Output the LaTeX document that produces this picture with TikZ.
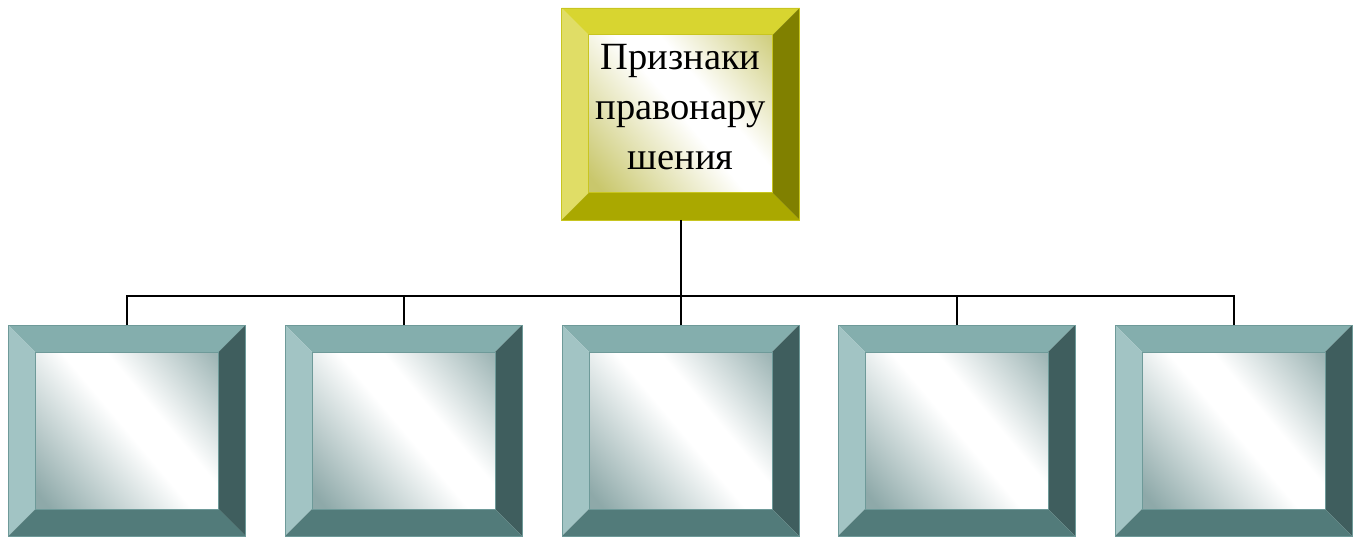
\documentclass[tikz,border=0pt]{standalone}
\usepackage{fontspec}
\setmainfont{Liberation Serif}
\usetikzlibrary{calc}
\definecolor{ttop}{HTML}{84AEAD}
\definecolor{tleft}{HTML}{A2C4C4}
\definecolor{tright}{HTML}{3F5E5E}
\definecolor{tbot}{HTML}{527B7A}
\definecolor{tin}{HTML}{8EA9A9}
\definecolor{tedge}{HTML}{6E9A99}
\definecolor{ytop}{HTML}{D8D530}
\definecolor{yleft}{HTML}{E0DD66}
\definecolor{yright}{HTML}{808000}
\definecolor{ybot}{HTML}{AAA800}
\definecolor{yin}{HTML}{C9C76C}
\definecolor{yedge}{HTML}{C8C520}
\pgfdeclarehorizontalshading{tealin}{100bp}{color(0bp)=(tin); color(18bp)=(tin); color(50bp)=(white); color(60bp)=(white); color(84bp)=(tin!85); color(100bp)=(tin!85)}
\pgfdeclarehorizontalshading{yelin}{100bp}{color(0bp)=(yin); color(18bp)=(yin); color(50bp)=(white); color(60bp)=(white); color(84bp)=(yin!85); color(100bp)=(yin!85)}
\tikzset{
  x=1pt, y=1pt,
  bevelbox/.style n args={6}{
    minimum width=237pt, minimum height=211pt, inner sep=0pt, outer sep=0pt,
    draw=#6, line width=0.6pt,
    path picture={
      \path (path picture bounding box.north west) coordinate (pNW)
            (path picture bounding box.north east) coordinate (pNE)
            (path picture bounding box.south west) coordinate (pSW)
            (path picture bounding box.south east) coordinate (pSE);
      \path ($(pNW)+(27,-27)$) coordinate (qNW)
            ($(pNE)+(-27,-27)$) coordinate (qNE)
            ($(pSW)+(27,27)$) coordinate (qSW)
            ($(pSE)+(-27,27)$) coordinate (qSE);
      \shade[shading=#5, shading angle=40] (qSW) rectangle (qNE);
      \fill[#1] (pNW) -- (pNE) -- (qNE) -- (qNW) -- cycle;
      \fill[#2] (pNW) -- (qNW) -- (qSW) -- (pSW) -- cycle;
      \fill[#3] (pNE) -- (pSE) -- (qSE) -- (qNE) -- cycle;
      \fill[#4] (pSW) -- (qSW) -- (qSE) -- (pSE) -- cycle;
      \draw[#6, line width=1pt] (qNW) rectangle (qSE);
    }
  },
  tealbox/.style={bevelbox={ttop}{tleft}{tright}{tbot}{tealin}{tedge}},
  yelbox/.style={bevelbox={ytop}{yleft}{yright}{ybot}{yelin}{yedge},
    minimum width=238pt, minimum height=212pt,
    font=\fontsize{38.5}{50}\selectfont, align=center, text depth=14pt},
  conn/.style={draw=black, line width=2pt}
}
\begin{document}
\begin{tikzpicture}
\useasboundingbox (0,0) rectangle (1362,536);
\node[yelbox] (top) at (680.6,422) {Признаки\\правонару\\шения};
\node[tealbox] (b1) at (127,105.5) {};
\node[tealbox] (b2) at (403.5,105.5) {};
\node[tealbox] (b3) at (680.6,105.5) {};
\node[tealbox] (b4) at (956.5,105.5) {};
\node[tealbox] (b5) at (1233.5,105.5) {};
\coordinate (bus) at (680.6,240);
\draw[conn] (top.south) -- (bus);
\draw[conn] (b1.north) |- (bus);
\draw[conn] (b2.north) |- (bus);
\draw[conn] (b3.north) -- (bus);
\draw[conn] (b4.north) |- (bus);
\draw[conn] (b5.north) |- (bus);
\end{tikzpicture}
\end{document}
